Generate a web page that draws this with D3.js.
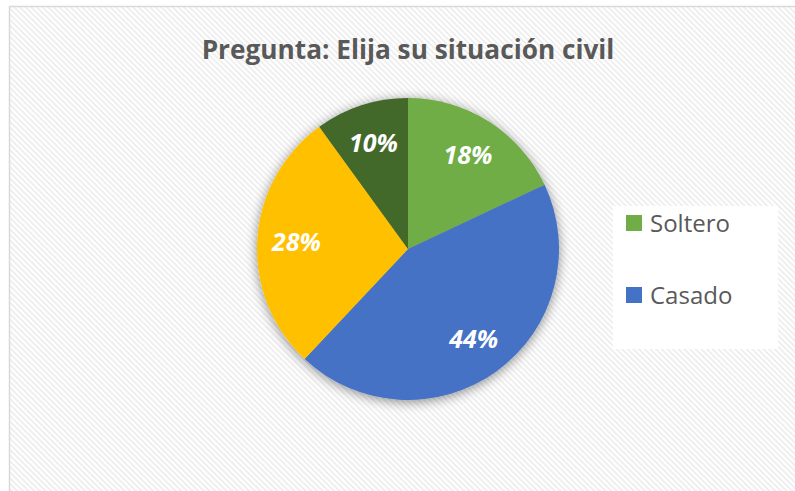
<!DOCTYPE html>
<html><head><meta charset="utf-8">
<script src="https://cdn.jsdelivr.net/npm/d3@7"></script>
<style>body{margin:0;background:#fff;} svg{display:block;}</style>
</head><body>
<script>
const categories = ["Soltero", "Casado", "Unión libre", "Divorciado"];
const values = [18, 44, 28, 10];
const colors = ["#70ad47", "#4472c4", "#ffc000", "#43682b"];
const legendShown = ["Soltero", "Casado"];
const title = "Pregunta: Elija su situación civil";

const W = 795, H = 491;
const FONT = "'Open Sans', 'Noto Sans', sans-serif";
const svg = d3.select("body").append("svg").attr("width", W).attr("height", H);
const defs = svg.append("defs");
const pat = defs.append("pattern").attr("id","hatch").attr("patternUnits","userSpaceOnUse")
  .attr("width",4).attr("height",4).attr("patternTransform","rotate(-45)");
pat.append("rect").attr("width",4).attr("height",4).attr("fill","#ffffff");
pat.append("rect").attr("width",2).attr("height",4).attr("fill","#efefef");
const f = defs.append("filter").attr("id","sh").attr("x","-20%").attr("y","-20%").attr("width","140%").attr("height","140%");
f.append("feGaussianBlur").attr("in","SourceAlpha").attr("stdDeviation",6).attr("result","b");
f.append("feOffset").attr("in","b").attr("dx",0).attr("dy",2).attr("result","o");
f.append("feComponentTransfer").attr("in","o").attr("result","c").append("feFuncA").attr("type","linear").attr("slope",0.45);
const m = f.append("feMerge"); m.append("feMergeNode").attr("in","c"); m.append("feMergeNode").attr("in","SourceGraphic");

svg.append("rect").attr("x",9.5).attr("y",6.5).attr("width",W).attr("height",H)
  .attr("fill","url(#hatch)").attr("stroke","#d9d9d9").attr("stroke-width",1.5);

const t = svg.append("text").attr("x",408).attr("y",59).attr("text-anchor","middle")
  .attr("font-family",FONT).attr("font-weight","bold")
  .attr("font-size",26).attr("fill","#595959").text(title);
const tw = t.node().getComputedTextLength();
t.attr("font-size", 26 * 413 / tw);

const cx = 408, cy = 249, r = 151;
const pie = d3.pie().sort(null).value(d => d)(values);
const arc = d3.arc().innerRadius(0).outerRadius(r);
const labelArc = d3.arc().innerRadius(r*0.74).outerRadius(r*0.74);
const g = svg.append("g").attr("transform",`translate(${cx},${cy})`);
g.append("g").attr("filter","url(#sh)").selectAll("path").data(pie).join("path")
  .attr("d", arc).attr("fill",(d,i)=>colors[i]);
const tot = d3.sum(values);
g.selectAll("text.lbl").data(pie).join("text").attr("class","lbl")
  .attr("transform", d => `translate(${labelArc.centroid(d)})`)
  .attr("text-anchor","middle").attr("dy","0.36em")
  .attr("font-family",FONT).attr("font-weight","bold").attr("font-style","italic")
  .attr("font-size",25).attr("fill","#ffffff")
  .text(d => Math.round(d.value/tot*100) + "%");

const lg = svg.append("g");
lg.append("rect").attr("x",613).attr("y",206).attr("width",165).attr("height",143).attr("fill","#ffffff");
const ly = d3.scalePoint().domain(legendShown).range([223, 295]);
legendShown.forEach((c) => {
  const i = categories.indexOf(c);
  lg.append("rect").attr("x",626).attr("y",ly(c)-8).attr("width",16).attr("height",16).attr("fill",colors[i]);
  lg.append("text").attr("x",650).attr("y",ly(c)).attr("dy","0.36em")
    .attr("font-family",FONT).attr("font-size",24).attr("fill","#595959").text(c);
});
</script>
</body></html>
